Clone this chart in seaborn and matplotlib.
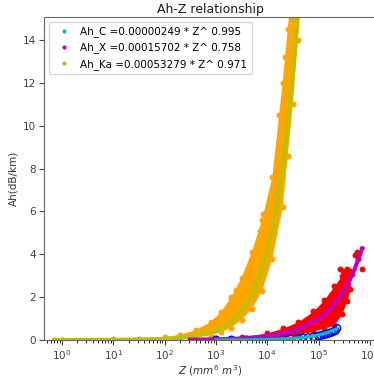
import matplotlib
matplotlib.use('Agg')
import matplotlib.pyplot as plt
import seaborn as sns
from matplotlib.lines import Line2D

# ---------------- data ----------------
# Ka band data cloud: envelope of scattered measurements
ka_env_z = [0.7, 1, 10, 32, 100, 200, 400, 800, 1259, 1995, 3162, 5012, 7943,
            12589, 19953, 25119, 31623, 39811, 50119]
ka_env_hi = [0.02, 0.02, 0.03, 0.06, 0.13, 0.25, 0.45, 0.85, 1.3, 2.0, 2.9, 4.1,
             5.6, 7.6, 12.0, 14.5, 17.0, 19.0, 21.0]
ka_env_lo = [0.0, 0.0, 0.0, 0.005, 0.02, 0.05, 0.10, 0.22, 0.36, 0.58, 0.95, 1.45,
             2.3, 3.8, 6.2, 8.6, 11.0, 14.0, 17.0]
ka_out_z = [2455, 7244, 8128, 12303, 16596, 22387]
ka_out_ah = [2.35, 5.1, 5.9, 6.8, 10.5, 13.2]

# Ka fit  Ah = 0.00053279 * Z^0.971
ka_fit_z = [0.7, 1, 10, 100, 316, 1000, 1778, 3162, 5012, 7943, 12589, 19953,
            25119, 31623, 39811]
ka_fit_ah = [0.00038, 0.00053, 0.0050, 0.0466, 0.1426, 0.436, 0.762, 1.334,
             2.086, 3.262, 5.10, 7.98, 9.98, 12.48, 15.60]

# X band data cloud
x_env_z = [316, 1000, 3162, 10000, 19953, 39811, 79433, 125893, 199526, 281838,
           354813, 416869]
x_env_hi = [0.03, 0.07, 0.15, 0.33, 0.55, 0.85, 1.35, 1.85, 2.5, 3.0, 3.3, 3.2]
x_env_lo = [0.0, 0.01, 0.03, 0.07, 0.14, 0.25, 0.42, 0.55, 0.7, 1.2, 1.8, 2.4]
x_out_z = [263027, 301995, 371535, 446684, 524807, 562341, 588844, 707946]
x_out_ah = [3.3, 3.2, 3.2, 3.1, 3.95, 4.1, 3.8, 3.3]

# X fit  Ah = 0.00015702 * Z^0.758
x_fit_z = [316, 1000, 3162, 10000, 31623, 100000, 158489, 251189, 398107,
           501187, 707946]
x_fit_ah = [0.0123, 0.0295, 0.0706, 0.169, 0.4045, 0.968, 1.373, 1.946, 2.759,
            3.286, 4.270]

# C band data
c_z = [1000, 1995, 3981, 7943, 12589, 19953, 28184, 39811, 50119, 63096, 79433,
       100000, 112202, 125893, 141254, 158489, 177828, 199526, 213796, 229087]
c_ah = [0.002, 0.004, 0.008, 0.016, 0.025, 0.04, 0.055, 0.075, 0.095, 0.12, 0.15,
        0.19, 0.21, 0.24, 0.27, 0.31, 0.35, 0.40, 0.44, 0.55]

# C fit  Ah = 0.00000249 * Z^0.995
c_fit_z = [1000, 3162, 10000, 31623, 63096, 100000, 158489, 229087]
c_fit_ah = [0.00241, 0.00756, 0.0238, 0.0748, 0.1487, 0.2351, 0.3717, 0.5364]

x_ticks = [1, 10, 100, 1000, 10000, 100000, 1000000]
y_ticks = [0, 2, 4, 6, 8, 10, 12, 14]

legend_labels = ['Ah_C =0.00000249 * Z^ 0.995',
                 'Ah_X =0.00015702 * Z^ 0.758',
                 'Ah_Ka =0.00053279 * Z^ 0.971']

# ---------------- figure ----------------
W, H = 374, 379
fig = plt.figure(figsize=(W / 100, H / 100), dpi=100)
ax = fig.add_axes([44 / W, 1 - 340 / H, 332 / W, 323 / H])
ax.set_xscale('log')

# Ka cloud
ax.fill_between(ka_env_z, ka_env_lo, ka_env_hi, color='orange', lw=0)
sns.scatterplot(x=ka_env_z + ka_env_z + ka_out_z,
                y=ka_env_hi + ka_env_lo + ka_out_ah,
                color='orange', s=18, linewidth=0, ax=ax)
sns.lineplot(x=ka_fit_z, y=ka_fit_ah, color='#bfbf00', lw=3, sort=False,
             estimator=None, ax=ax)

# X cloud
ax.fill_between(x_env_z, x_env_lo, x_env_hi, color='red', lw=0)
sns.scatterplot(x=x_env_z + x_env_z + x_out_z,
                y=x_env_hi + x_env_lo + x_out_ah,
                color='red', s=18, linewidth=0, ax=ax)
sns.lineplot(x=x_fit_z, y=x_fit_ah, color='#bf00bf', lw=3, sort=False,
             estimator=None, ax=ax)
sns.scatterplot(x=[x_fit_z[-1]], y=[x_fit_ah[-1]], color='#bf00bf', s=10,
                linewidth=0, ax=ax)

# C data
sns.scatterplot(x=c_z, y=c_ah, marker='o', facecolors='none', edgecolor='blue',
                s=28, linewidth=1.0, ax=ax)
sns.lineplot(x=c_fit_z, y=c_fit_ah, color='#00bfbf', lw=2.2, sort=False,
             estimator=None, ax=ax)

ax.set_xlim(10 ** -0.351, 10 ** 6.12)
ax.set_ylim(0, 15.07)
ax.set_xticks(x_ticks)
ax.set_yticks(y_ticks)
ax.tick_params(labelsize=7.5, pad=2.5, colors='0.25')
for sp in ax.spines.values():
    sp.set_color('0.4')
ax.set_xlabel(r'$Z$ ($mm^6$ $m^3$)', fontsize=7.5, labelpad=1, color='0.2')
ax.set_ylabel('Ah(dB/km)', fontsize=7.5, labelpad=3, color='0.2')
ax.set_title('Ah-Z relationship', fontsize=9, pad=3, color='0.1')

handles = [Line2D([0], [0], marker='.', ls='', color=c, ms=4)
           for c in ['#00bfbf', '#bf00bf', '#bfbf00']]
ax.legend(handles, legend_labels, loc='upper left', fontsize=7.5,
          handletextpad=0.6)

fig.savefig('out.png', dpi=100)
